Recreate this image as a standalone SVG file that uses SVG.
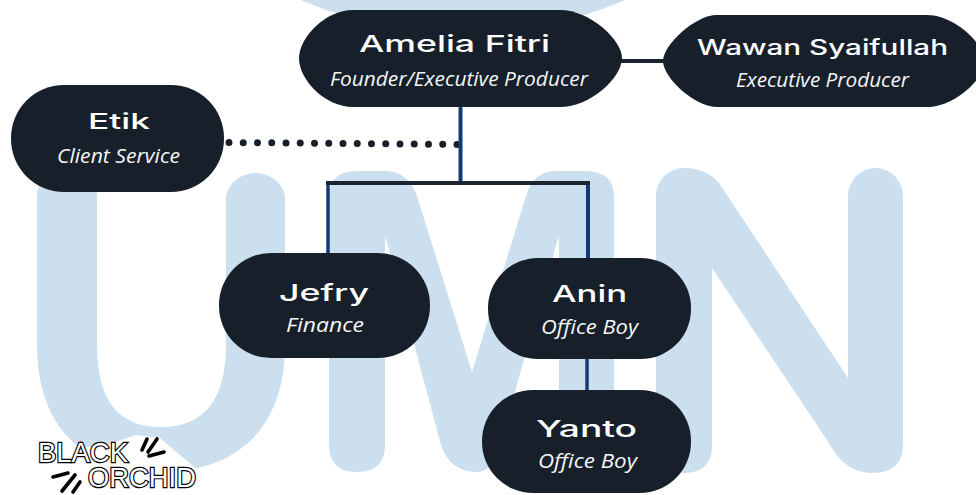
<svg xmlns="http://www.w3.org/2000/svg" width="976" height="495" viewBox="0 0 976 495">
<style>
.wm{fill:#cbdfef}
.node{fill:#17202a}
.name{font-family:"Inter","Liberation Sans",sans-serif;font-weight:500;font-size:23px;fill:#fff}
.role{font-family:"Open Sans","Noto Sans",sans-serif;font-style:italic;font-size:19.5px;fill:#f4f6f8}
.blue{stroke:#123a78;fill:none;stroke-linecap:round}
.dark{stroke:#1a2530;fill:none;stroke-width:4}
.dots{stroke:#17202a;fill:none;stroke-width:7;stroke-linecap:round;stroke-dasharray:0 14.25}
.logo{font-family:"Liberation Sans",sans-serif;font-size:28px;fill:#fff;stroke:#000;stroke-width:2.4;paint-order:stroke}
.ray{stroke:#000;stroke-width:3.6;stroke-linecap:round;fill:none}
</style>
<rect width="976" height="495" fill="#fff"/>
<g id="watermark">
<circle class="wm" cx="463" cy="-382" r="415"/>
<path class="wm" d="M37 196A30 28 0 0 1 97 196V345C97 400 118 427 161 427C204 427 226 400 226 345V196A30 28 0 0 1 285 196V345C285 425 240 472 161 472C82 472 37 425 37 345Z"/>
<path class="wm" d="M329 197Q329 171 357 171H385Q408 171 417 196L472 372L526 196Q533 171 557 171H585Q614 171 614 197V445Q614 472 587 472T559 445V235L519 377L503 440Q494 472 477 472Q450 472 441 445L385 235V445Q385 472 357 472T329 445Z"/>
<path class="wm" d="M656 196A28 28 0 0 1 684 168Q706 168 719 183L848 378V196A27.500 28 0 0 1 903 196V445Q903 473 872 473Q845 473 829 443L712 268V445Q712 473 684 473T656 445Z"/>
</g>
<g id="connectors">
<path class="dark" d="M621 61H664"/>
<path class="dots" d="M229 142.500L457 144.500"/>
<path class="blue" stroke-width="4" d="M460.500 108V182"/>
<path class="blue" stroke-width="3.500" d="M328 185V253"/>
<path class="blue" stroke-width="4" d="M588 185V258"/>
<path class="blue" stroke-width="3.500" d="M587 359V390"/>
<path class="dark" d="M326 183H590"/>
</g>
<g id="node-amelia">
<path class="node" d="M353 10H560C590 10 622 40 622 58C622 78 590 107 560 107H353C325 107 299 80 299 58C299 38 325 10 353 10Z"/>
<text class="name" x="359" y="52" textLength="191" lengthAdjust="spacingAndGlyphs">Amelia Fitri</text>
<text class="role" x="330" y="86" textLength="258" lengthAdjust="spacingAndGlyphs">Founder/Executive Producer</text>
</g>
<g id="node-wawan">
<path class="node" d="M717 15H927C955 15 985 45 985 61C985 78 955 107 927 107H717C695 107 663 78 663 61C663 45 695 15 717 15Z"/>
<text class="name" x="697" y="55" textLength="251" lengthAdjust="spacingAndGlyphs" style="font-size:21px">Wawan Syaifullah</text>
<text class="role" x="736" y="87" textLength="173" lengthAdjust="spacingAndGlyphs">Executive Producer</text>
</g>
<g id="node-etik">
<rect class="node" x="11" y="85" width="213" height="107" rx="53" ry="53"/>
<text class="name" x="88" y="129" textLength="62" lengthAdjust="spacingAndGlyphs" style="font-size:22px">Etik</text>
<text class="role" x="57" y="163" textLength="123" lengthAdjust="spacingAndGlyphs">Client Service</text>
</g>
<g id="node-jefry">
<rect class="node" x="219" y="253" width="211" height="105" rx="52" ry="52"/>
<text class="name" x="279" y="301" textLength="90" lengthAdjust="spacingAndGlyphs">Jefry</text>
<text class="role" x="286" y="332" textLength="78" lengthAdjust="spacingAndGlyphs">Finance</text>
</g>
<g id="node-anin">
<rect class="node" x="488" y="258" width="203" height="101" rx="50" ry="50"/>
<text class="name" x="552" y="302" textLength="75" lengthAdjust="spacingAndGlyphs">Anin</text>
<text class="role" x="541" y="334" textLength="97" lengthAdjust="spacingAndGlyphs">Office Boy</text>
</g>
<g id="node-yanto">
<rect class="node" x="482" y="390" width="209" height="103" rx="51" ry="51"/>
<text class="name" x="536" y="437" textLength="101" lengthAdjust="spacingAndGlyphs">Yanto</text>
<text class="role" x="538" y="468" textLength="99" lengthAdjust="spacingAndGlyphs">Office Boy</text>
</g>
<g id="logo">
<path fill="#fff" d="M60 447L100 447L136 435L160 438L200 472V495H60Z"/>
<path class="ray" d="M142 450L147 439M148 452L157 439M149 456L164 452M53 477L68 473M62 491L75 475M73 492L80 482"/>
<text class="logo" x="38" y="462" textLength="90" lengthAdjust="spacingAndGlyphs">BLACK</text>
<text class="logo" x="88" y="487" textLength="108" lengthAdjust="spacingAndGlyphs">ORCHID</text>
</g>
</svg>
